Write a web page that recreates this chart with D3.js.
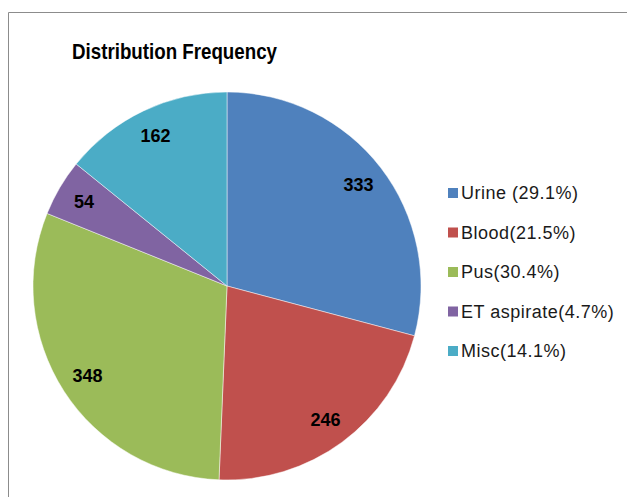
<!DOCTYPE html>
<html>
<head>
<meta charset="utf-8">
<script src="https://cdn.jsdelivr.net/npm/d3@7"></script>
<style>
  body { margin: 0; background: #fff; }
  svg { display: block; }
</style>
</head>
<body>
<div id="chart"></div>
<script>
// chart data
const categories = ["Urine", "Blood", "Pus", "ET aspirate", "Misc"];
const counts = [333, 246, 348, 54, 162];
const legendLabels = ["Urine (29.1%)", "Blood(21.5%)", "Pus(30.4%)", "ET aspirate(4.7%)", "Misc(14.1%)"];
const colors = ["#4F81BD", "#C0504D", "#9BBB59", "#8064A2", "#4BACC6"];

const width = 627;
const height = 497;
const cx = 227, cy = 286, radius = 194;

const svg = d3.select("#chart")
    .append("svg")
    .attr("width", width)
    .attr("height", height);

// chart area border (only top and left show in the crop)
svg.append("path")
    .attr("d", `M8.5,${height} V12.5 H${width}`)
    .attr("fill", "none")
    .attr("stroke", "#8c8c8c")
    .attr("stroke-width", 1);

svg.append("text")
    .attr("x", 72)
    .attr("y", 59)
    .attr("font-family", "Liberation Sans, Arial, sans-serif")
    .attr("font-weight", "bold")
    .attr("font-size", 22)
    .attr("textLength", 205)
    .attr("lengthAdjust", "spacingAndGlyphs")
    .attr("fill", "#000")
    .text("Distribution Frequency");

const color = d3.scaleOrdinal().domain(categories).range(colors);

const pie = d3.pie()
    .sort(null)
    .value((d, i) => counts[i]);

const arcs = pie(categories);

const arc = d3.arc().innerRadius(0).outerRadius(radius);
const labelArc = d3.arc().innerRadius(166).outerRadius(166);

const g = svg.append("g").attr("transform", `translate(${cx},${cy})`);

g.selectAll("path")
    .data(arcs)
    .enter()
    .append("path")
    .attr("d", arc)
    .attr("fill", d => color(d.data))
    .attr("stroke", "#ffffff")
    .attr("stroke-opacity", 0.6)
    .attr("stroke-width", 0.8);

g.selectAll("text")
    .data(arcs)
    .enter()
    .append("text")
    .attr("transform", d => `translate(${labelArc.centroid(d)})`)
    .attr("text-anchor", "middle")
    .attr("dy", "0.35em")
    .attr("font-family", "Liberation Sans, Arial, sans-serif")
    .attr("font-weight", "bold")
    .attr("font-size", 18)
    .attr("fill", "#000")
    .text(d => d.value);

// legend
const legend = svg.append("g")
    .selectAll("g")
    .data(legendLabels)
    .enter()
    .append("g")
    .attr("transform", (d, i) => `translate(448,${193 + i * 39.5})`);

legend.append("rect")
    .attr("x", 0)
    .attr("y", -5)
    .attr("width", 10)
    .attr("height", 10)
    .attr("fill", (d, i) => colors[i]);

legend.append("text")
    .attr("x", 13)
    .attr("dy", "0.36em")
    .attr("font-family", "Liberation Sans, Arial, sans-serif")
    .attr("font-size", 18)
    .attr("letter-spacing", 0.5)
    .attr("fill", "#1a1a1a")
    .text(d => d);
</script>
</body>
</html>
